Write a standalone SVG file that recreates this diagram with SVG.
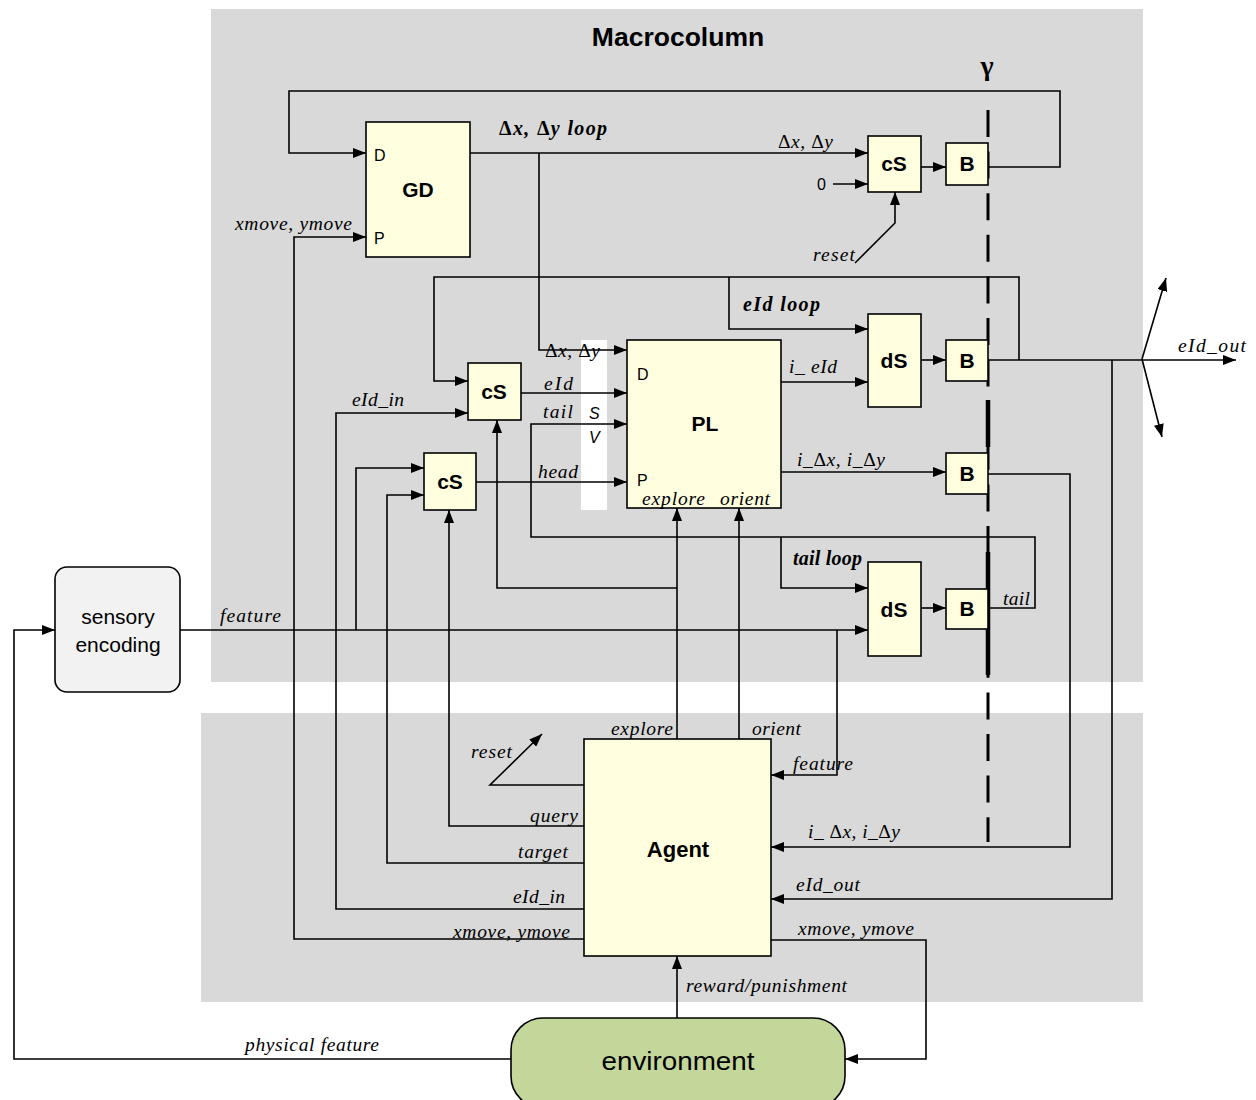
<svg xmlns="http://www.w3.org/2000/svg" width="1256" height="1100" viewBox="0 0 1256 1100">
  <style>
    .panel { fill: #d9d9d9; }
    .blk { fill: #ffffe0; stroke: #000; stroke-width: 1.6; }
    .wire { fill: none; stroke: #000; stroke-width: 1.6; }
    .arr { marker-end: url(#ah); }
    .bl { font-family: "Liberation Sans", Arial, sans-serif; font-weight: bold; fill: #000; text-anchor: middle; }
    .pt { font-family: "Liberation Sans", Arial, sans-serif; font-size: 16px; fill: #000; }
    .lb { font-family: "Liberation Serif", "Times New Roman", serif; font-style: italic; font-size: 19.5px; fill: #000; }
    .lbb { font-family: "Liberation Serif", "Times New Roman", serif; font-style: italic; font-weight: bold; font-size: 20px; fill: #000; }
    .up { font-style: normal; }
  </style>
  <defs>
    <marker id="ah" markerUnits="userSpaceOnUse" markerWidth="13" markerHeight="10" refX="13" refY="5" orient="auto">
      <path d="M0,0 L13,5 L0,10 z" fill="#000"/>
    </marker>
  </defs>

  <!-- background panels -->
  <rect class="panel" x="211" y="9" width="932" height="673"/>
  <rect class="panel" x="201" y="713" width="942" height="289"/>
  <text class="bl" x="678" y="46" font-size="26.5">Macrocolumn</text>
  <text x="987" y="75" font-family="Liberation Serif, serif" font-weight="bold" font-size="28" text-anchor="middle">γ</text>

  <!-- timing boundary -->
  <g id="gamma-line">
    <line x1="988" y1="110" x2="988" y2="842" stroke="#000" stroke-width="3" stroke-dasharray="27 14.6"/>
    <line x1="988" y1="400" x2="988" y2="447" stroke="#000" stroke-width="4.5"/>
    <line x1="988" y1="552" x2="988" y2="675" stroke="#000" stroke-width="4.5"/>
  </g>

  <!-- S/V strip -->
  <rect x="581" y="340" width="26" height="170" fill="#fff"/>

  <!-- connectors -->
  <g id="connectors">
    <path class="wire arr" d="M988,167 H1060 V91 H289 V153 H366"/>
    <path class="wire arr" d="M470,153 H868"/>
    <path class="wire arr" d="M539,153 V350 H627"/>
    <path class="wire arr" d="M833,184 H868"/>
    <path class="wire arr" d="M855,263 L895,223 V192"/>
    <path class="wire arr" d="M921,167 H946"/>
    <path class="wire arr" d="M988,360 H1236"/>
    <path class="wire arr" d="M1019,360 V277 H434 V381 H468"/>
    <path class="wire arr" d="M729,277 V329 H868"/>
    <path class="wire arr" d="M781,382 H868"/>
    <path class="wire arr" d="M921,360 H946"/>
    <path class="wire arr" d="M1142,359 L1166,278"/>
    <path class="wire arr" d="M1142,359 L1162,437"/>
    <path class="wire arr" d="M1112,360 V899 H771"/>
    <path class="wire arr" d="M781,472 H946"/>
    <path class="wire arr" d="M988,474 H1070 V847 H771"/>
    <path class="wire arr" d="M521,393 H627"/>
    <path class="wire arr" d="M584,909 H336 V413 H468"/>
    <path class="wire arr" d="M988,608 H1035 V537 H531 V424 H627"/>
    <path class="wire arr" d="M781,537 V588 H868"/>
    <path class="wire arr" d="M921,608 H946"/>
    <path class="wire arr" d="M180,630 H868"/>
    <path class="wire arr" d="M356,630 V468 H424"/>
    <path class="wire arr" d="M837,630 V775 H771"/>
    <path class="wire arr" d="M584,863 H387 V495 H424"/>
    <path class="wire arr" d="M584,826 H449 V510"/>
    <path class="wire arr" d="M476,482 H627"/>
    <path class="wire arr" d="M677,739 V508"/>
    <path class="wire arr" d="M677,588 H497 V420"/>
    <path class="wire arr" d="M739,739 V508"/>
    <path class="wire arr" d="M584,785 H490 L542,734"/>
    <path class="wire arr" d="M584,939 H294 V237 H366"/>
    <path class="wire arr" d="M771,940 H926 V1059 H845"/>
    <path class="wire arr" d="M677,1018 V956"/>
    <path class="wire arr" d="M511,1059 H14 V630 H55"/>
  </g>

  <!-- nodes -->
  <g id="gd">
    <rect class="blk" x="366" y="122" width="104" height="135"/>
    <text class="pt" x="374" y="161">D</text>
    <text class="pt" x="374" y="244">P</text>
    <text class="bl" x="418" y="197" font-size="21">GD</text>
  </g>
  <g id="cs-top">
    <rect class="blk" x="868" y="136" width="53" height="56"/>
    <text class="bl" x="894" y="171" font-size="21">cS</text>
  </g>
  <g id="b-top">
    <rect class="blk" x="946" y="143" width="42" height="42"/>
    <text class="bl" x="967" y="171" font-size="21">B</text>
  </g>
  <g id="cs-eid">
    <rect class="blk" x="468" y="363" width="53" height="57"/>
    <text class="bl" x="494" y="399" font-size="21">cS</text>
  </g>
  <g id="cs-head">
    <rect class="blk" x="424" y="453" width="52" height="57"/>
    <text class="bl" x="450" y="489" font-size="21">cS</text>
  </g>
  <g id="pl">
    <rect class="blk" x="627" y="340" width="154" height="168"/>
    <text class="pt" x="637" y="380">D</text>
    <text class="pt" x="637" y="486">P</text>
    <text class="bl" x="705" y="431" font-size="21">PL</text>
    <text class="lb" x="642" y="505" textLength="63">explore</text>
    <text class="lb" x="720" y="505" textLength="50">orient</text>
  </g>
  <g id="ds-eid">
    <rect class="blk" x="868" y="314" width="53" height="93"/>
    <text class="bl" x="894" y="368" font-size="21">dS</text>
  </g>
  <g id="b-eid">
    <rect class="blk" x="946" y="340" width="42" height="41"/>
    <text class="bl" x="967" y="368" font-size="21">B</text>
  </g>
  <g id="b-delta">
    <rect class="blk" x="946" y="453" width="42" height="41"/>
    <text class="bl" x="967" y="481" font-size="21">B</text>
  </g>
  <g id="ds-tail">
    <rect class="blk" x="868" y="562" width="53" height="94"/>
    <text class="bl" x="894" y="617" font-size="21">dS</text>
  </g>
  <g id="b-tail">
    <rect class="blk" x="946" y="589" width="42" height="40"/>
    <text class="bl" x="967" y="616" font-size="21">B</text>
  </g>
  <g id="sensory">
    <rect x="55" y="567" width="125" height="125" rx="12" fill="#f2f2f2" stroke="#000" stroke-width="1.6"/>
    <text x="118" y="624" font-family="Liberation Sans, Arial, sans-serif" font-size="21" text-anchor="middle">sensory</text>
    <text x="118" y="652" font-family="Liberation Sans, Arial, sans-serif" font-size="21" text-anchor="middle">encoding</text>
  </g>
  <g id="agent">
    <rect class="blk" x="584" y="739" width="187" height="217"/>
    <text class="bl" x="678" y="857" font-size="22">Agent</text>
  </g>
  <g id="environment">
    <rect x="511" y="1018" width="334" height="90" rx="32" fill="#c4d79b" stroke="#000" stroke-width="1.6"/>
    <text x="678" y="1070" font-family="Liberation Sans, Arial, sans-serif" font-size="26" text-anchor="middle" textLength="153" lengthAdjust="spacingAndGlyphs">environment</text>
  </g>

  <!-- labels -->
  <g id="labels">
    <text class="lbb" x="499" y="135" textLength="108"><tspan class="up">Δ</tspan>x, <tspan class="up">Δ</tspan>y loop</text>
    <text class="lb" x="235" y="230" textLength="117">xmove, ymove</text>
    <text class="lb" x="778" y="148" textLength="55"><tspan class="up">Δ</tspan>x, <tspan class="up">Δ</tspan>y</text>
    <text class="pt" x="817" y="190" font-size="17">0</text>
    <text class="lb" x="813" y="261" textLength="42">reset</text>
    <text class="lbb" x="743" y="311" textLength="77">eId loop</text>
    <text class="lb" x="545" y="357" textLength="55"><tspan class="up">Δ</tspan>x, <tspan class="up">Δ</tspan>y</text>
    <text class="lb" x="544" y="390" textLength="29">eId</text>
    <text class="lb" x="352" y="406" textLength="52">eId_in</text>
    <text class="lb" x="543" y="418" textLength="30">tail</text>
    <text class="pt" x="589" y="419" font-style="italic" font-size="17">S</text>
    <text class="pt" x="589" y="443" font-style="italic" font-size="17">V</text>
    <text class="lb" x="538" y="478" textLength="40">head</text>
    <text class="lb" x="789" y="373" textLength="48">i_ eId</text>
    <text class="lb" x="797" y="466" textLength="88">i_<tspan class="up">Δ</tspan>x, i_<tspan class="up">Δ</tspan>y</text>
    <text class="lbb" x="793" y="565" textLength="69">tail loop</text>
    <text class="lb" x="1003" y="605" textLength="27">tail</text>
    <text class="lb" x="1178" y="352" textLength="68">eId_out</text>
    <text class="lb" x="220" y="622" textLength="61">feature</text>
    <text class="lb" x="611" y="735" textLength="62">explore</text>
    <text class="lb" x="752" y="735" textLength="49">orient</text>
    <text class="lb" x="793" y="770" textLength="60">feature</text>
    <text class="lb" x="471" y="758" textLength="41">reset</text>
    <text class="lb" x="530" y="822" textLength="48">query</text>
    <text class="lb" x="518" y="858" textLength="50">target</text>
    <text class="lb" x="513" y="903" textLength="52">eId_in</text>
    <text class="lb" x="453" y="938" textLength="117">xmove, ymove</text>
    <text class="lb" x="808" y="838" textLength="92">i_ <tspan class="up">Δ</tspan>x, i_<tspan class="up">Δ</tspan>y</text>
    <text class="lb" x="796" y="891" textLength="64">eId_out</text>
    <text class="lb" x="798" y="935" textLength="116">xmove, ymove</text>
    <text class="lb" x="686" y="992" textLength="161">reward/punishment</text>
    <text class="lb" x="245" y="1051" textLength="134">physical feature</text>
  </g>
</svg>
